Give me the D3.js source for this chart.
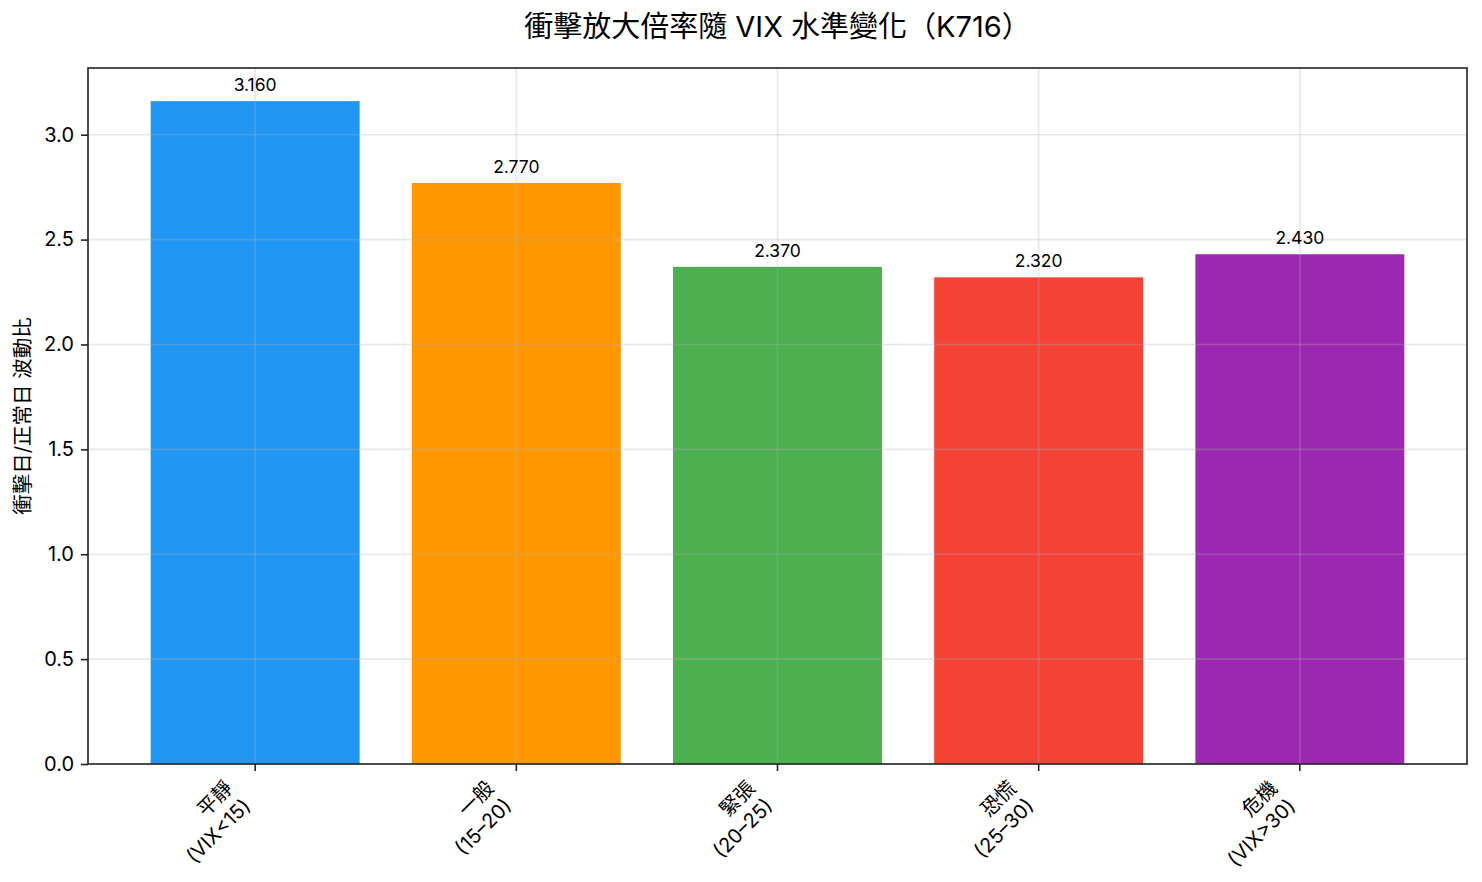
<!DOCTYPE html>
<html>
<head>
<meta charset="utf-8">
<script src="https://cdn.jsdelivr.net/npm/d3@7"></script>
<style>
  html, body { margin: 0; padding: 0; background: #fff; }
  svg text { font-family: Inter, "Noto Sans CJK TC", "Noto Sans", sans-serif; fill: #000; }
</style>
</head>
<body>
<div class="chart"></div>
<script>
// 資料
const levels = ["平靜", "一般", "緊張", "恐慌", "危機"];
const ranges = ["(VIX<15)", "(15–20)", "(20–25)", "(25–30)", "(VIX>30)"];
const ratios = [3.16, 2.77, 2.37, 2.32, 2.43];
const barColors = ["#2196F3", "#FF9800", "#4CAF50", "#F44336", "#9C27B0"];
const yTicks = [0, 0.5, 1.0, 1.5, 2.0, 2.5, 3.0];

const W = 1482, H = 882;
const margin = { top: 68, right: 15, bottom: 118, left: 88 };
const width = W - margin.left - margin.right;
const height = H - margin.top - margin.bottom;

const svg = d3.select(".chart")
    .append("svg")
    .attr("width", W)
    .attr("height", H);

const g = svg.append("g")
    .attr("transform", `translate(${margin.left},${margin.top})`);

// 比例尺 (類似 matplotlib 的邊距)
const x = d3.scaleLinear()
    .domain([-0.64, levels.length - 1 + 0.64])
    .range([0, width]);

const yMax = d3.max(ratios) * 1.05;
const y = d3.scaleLinear()
    .domain([0, yMax])
    .range([height, 0]);

const barW = x(0.8) - x(0);

// 柱狀圖
g.selectAll(".bar")
    .data(ratios)
    .join("rect")
    .attr("class", "bar")
    .attr("x", (d, i) => x(i) - barW / 2)
    .attr("y", d => y(d))
    .attr("width", barW)
    .attr("height", d => y(0) - y(d))
    .attr("fill", (d, i) => barColors[i]);

// 格線 (畫在柱子上面)
g.append("g")
    .selectAll("line.hgrid")
    .data(yTicks)
    .join("line")
    .attr("x1", 0).attr("x2", width)
    .attr("y1", d => y(d)).attr("y2", d => y(d))
    .attr("stroke", "#b0b0b0")
    .attr("stroke-opacity", 0.3)
    .attr("stroke-width", 1.6);

g.append("g")
    .selectAll("line.vgrid")
    .data(levels)
    .join("line")
    .attr("x1", (d, i) => x(i)).attr("x2", (d, i) => x(i))
    .attr("y1", 0).attr("y2", height)
    .attr("stroke", "#b0b0b0")
    .attr("stroke-opacity", 0.3)
    .attr("stroke-width", 1.6);

// 數值標籤
g.selectAll(".val")
    .data(ratios)
    .join("text")
    .attr("class", "val")
    .attr("x", (d, i) => x(i))
    .attr("y", d => y(d) - 10)
    .attr("text-anchor", "middle")
    .style("font-size", "17.5px")
    .text(d => d.toFixed(3));

// y 軸
const yAxis = g.append("g")
    .call(d3.axisLeft(y).tickValues(yTicks).tickFormat(d3.format(".1f")).tickSize(7).tickPadding(7));
yAxis.select(".domain").remove();
yAxis.selectAll(".tick line").attr("stroke", "#222").attr("stroke-width", 1.6);
yAxis.selectAll(".tick text").style("font-size", "20px").attr("fill", "#000");

// x 軸刻度
const xAxis = g.append("g")
    .attr("transform", `translate(0,${height})`);
xAxis.selectAll("line")
    .data(levels)
    .join("line")
    .attr("x1", (d, i) => x(i)).attr("x2", (d, i) => x(i))
    .attr("y1", 0).attr("y2", 7)
    .attr("stroke", "#222")
    .attr("stroke-width", 1.6);

// x 軸標籤 (旋轉 45 度，右對齊)
const fs = 20, lh = fs * 1.25, asc = fs * 0.88, desc = fs * 0.25;
const k = Math.SQRT1_2;
xAxis.selectAll("text")
    .data(levels)
    .join("text")
    .attr("text-anchor", "end")
    .style("font-size", fs + "px")
    .attr("transform", (d, i) => {
        const ox = x(i) - (lh + desc) * k;
        const oy = 13 + asc * k;
        return `translate(${ox},${oy}) rotate(-45)`;
    })
    .each(function (d, i) {
        const t = d3.select(this);
        t.append("tspan").attr("x", 0).attr("dy", 0).text(d);
        t.append("tspan").attr("x", 0).attr("dy", lh).text(ranges[i]);
    });

// 外框
g.append("rect")
    .attr("x", 0).attr("y", 0)
    .attr("width", width).attr("height", height)
    .attr("fill", "none")
    .attr("stroke", "#222")
    .attr("stroke-width", 1.6);

// y 軸標題
svg.append("text")
    .attr("transform", `translate(30,${margin.top + height / 2}) rotate(-90)`)
    .attr("text-anchor", "middle")
    .style("font-size", "20.5px")
    .text("衝擊日/正常日 波動比");

// 標題
svg.append("text")
    .attr("x", margin.left + width / 2)
    .attr("y", 37)
    .attr("text-anchor", "middle")
    .style("font-size", "29px")
    .text("衝擊放大倍率隨 VIX 水準變化（K716）");
</script>
</body>
</html>
